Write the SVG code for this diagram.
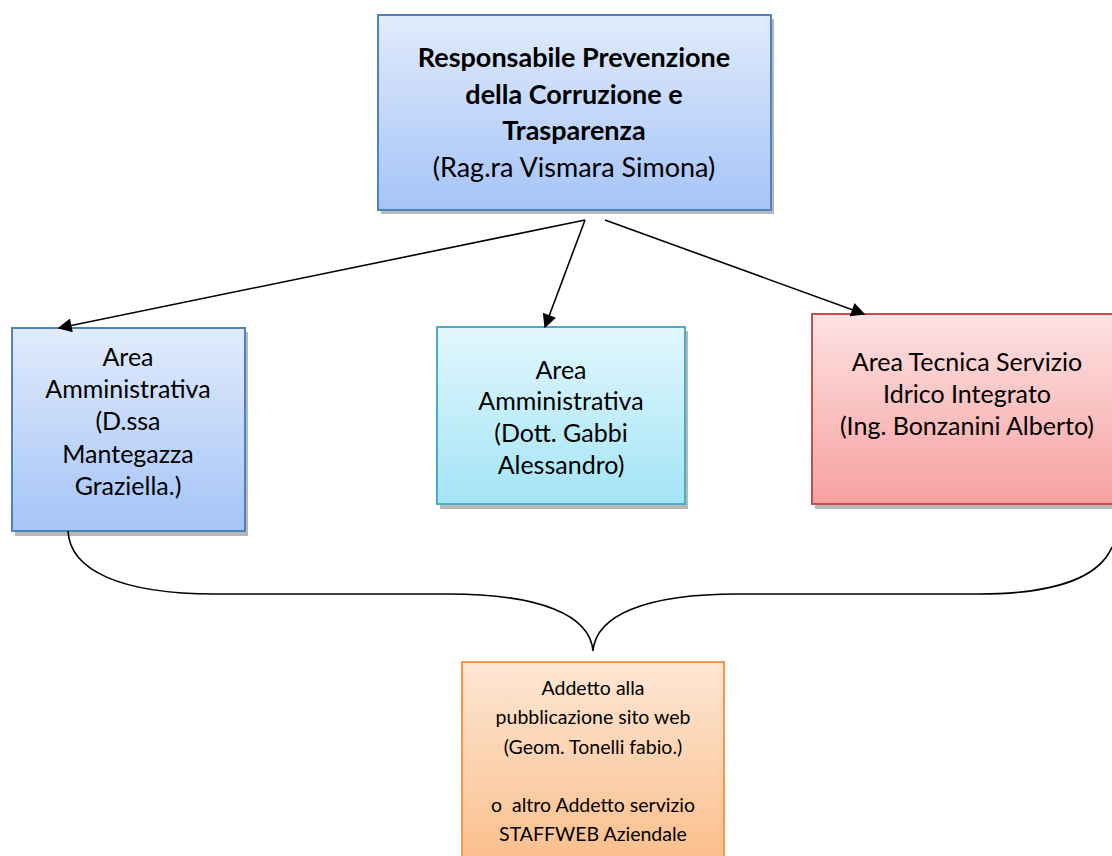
<svg xmlns="http://www.w3.org/2000/svg" width="1112" height="856" viewBox="0 0 1112 856">
  <defs>
    <linearGradient id="gBlue" x1="0" y1="0" x2="0" y2="1">
      <stop offset="0" stop-color="#e1ebfc"/>
      <stop offset="1" stop-color="#a5c4f7"/>
    </linearGradient>
    <linearGradient id="gCyan" x1="0" y1="0" x2="0" y2="1">
      <stop offset="0" stop-color="#e2f7fd"/>
      <stop offset="1" stop-color="#a3e4f6"/>
    </linearGradient>
    <linearGradient id="gRed" x1="0" y1="0" x2="0" y2="1">
      <stop offset="0" stop-color="#fde2e2"/>
      <stop offset="1" stop-color="#f6a1a0"/>
    </linearGradient>
    <linearGradient id="gOrange" x1="0" y1="0" x2="0" y2="1">
      <stop offset="0" stop-color="#fde6d4"/>
      <stop offset="1" stop-color="#fbbd88"/>
    </linearGradient>
    <marker id="arrowL" viewBox="0 0 10 10" refX="9" refY="5" markerWidth="16" markerHeight="14" markerUnits="userSpaceOnUse" orient="auto">
      <path d="M0,0 L10,5 L0,10 z" fill="#000"/>
    </marker>
  </defs>
  <style>
    .shadow { fill: #a6a6a6; opacity: 0.8; }
    .t { font-family: Lato, "Open Sans", "Liberation Sans", sans-serif; fill: #000; text-anchor: middle; }
    .top { font-size: 27px; }
    .bold { font-weight: bold; font-size: 27px; }
    .big { font-size: 25px; }
    .small { font-size: 19.5px; }
    .edge { stroke: #000; stroke-width: 1.6; fill: none; }
  </style>

  <rect width="1112" height="856" fill="#fff"/>

  <!-- head of prevention -->
  <g id="rpct">
    <rect class="shadow" x="381" y="19" width="393" height="195"/>
    <rect x="378" y="15" width="393" height="195" fill="url(#gBlue)" stroke="#4f81bd" stroke-width="2"/>
    <text class="t bold" x="574" y="67">Responsabile Prevenzione</text>
    <text class="t bold" x="574" y="104">della Corruzione e</text>
    <text class="t bold" x="574" y="140">Trasparenza</text>
    <text class="t top" x="574" y="177">(Rag.ra Vismara Simona)</text>
  </g>

  <!-- administrative area 1 -->
  <g id="area-amm-1">
    <rect class="shadow" x="15" y="332" width="233" height="204"/>
    <rect x="12" y="328" width="233" height="203" fill="url(#gBlue)" stroke="#4f81bd" stroke-width="2"/>
    <text class="t big" x="128" y="366">Area</text>
    <text class="t big" x="128" y="398">Amministrativa</text>
    <text class="t big" x="128" y="430">(D.ssa</text>
    <text class="t big" x="128" y="463">Mantegazza</text>
    <text class="t big" x="128" y="495">Graziella.)</text>
  </g>

  <!-- administrative area 2 -->
  <g id="area-amm-2">
    <rect class="shadow" x="440" y="331" width="248" height="178"/>
    <rect x="437" y="327" width="248" height="177" fill="url(#gCyan)" stroke="#4bacc6" stroke-width="2"/>
    <text class="t big" x="561" y="379">Area</text>
    <text class="t big" x="561" y="410">Amministrativa</text>
    <text class="t big" x="561" y="442">(Dott. Gabbi</text>
    <text class="t big" x="561" y="474">Alessandro)</text>
  </g>

  <!-- technical area -->
  <g id="area-tecnica">
    <rect class="shadow" x="815" y="318" width="310" height="191"/>
    <rect x="812" y="314" width="310" height="190" fill="url(#gRed)" stroke="#c0504d" stroke-width="2"/>
    <text class="t big" x="967" y="371">Area Tecnica Servizio</text>
    <text class="t big" x="967" y="403">Idrico Integrato</text>
    <text class="t big" x="967" y="435">(Ing. Bonzanini Alberto)</text>
  </g>

  <!-- website publication officer -->
  <g id="addetto-web">
    <rect x="462" y="662" width="262" height="210" fill="url(#gOrange)" stroke="#f79646" stroke-width="2"/>
    <text class="t small" x="593" y="695">Addetto alla</text>
    <text class="t small" x="593" y="724">pubblicazione sito web</text>
    <text class="t small" x="593" y="754">(Geom. Tonelli fabio.)</text>
    <text class="t small" x="593" y="812" xml:space="preserve">o  altro Addetto servizio</text>
    <text class="t small" x="593" y="841">STAFFWEB Aziendale</text>
  </g>

  <!-- connectors -->
  <g id="connectors">
    <line class="edge" x1="585" y1="220" x2="59" y2="328" marker-end="url(#arrowL)"/>
    <line class="edge" x1="585" y1="220" x2="545" y2="327" marker-end="url(#arrowL)"/>
    <line class="edge" x1="605" y1="220" x2="864" y2="314" marker-end="url(#arrowL)"/>
    <path class="edge" d="M68,531 C70,570 120,594 215,594 L448,594 C540,594 590,615 593,651 C596,615 646,594 738,594 L979,594 C1060,594 1100,575 1112,547"/>
  </g>
</svg>
